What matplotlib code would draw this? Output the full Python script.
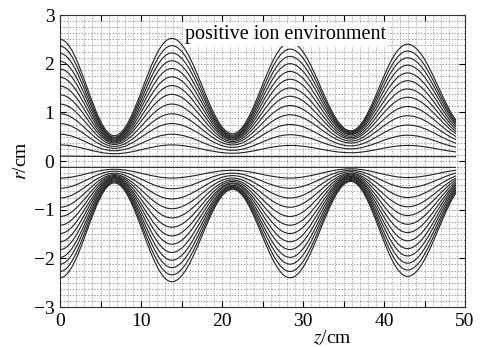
import numpy as np
import matplotlib
matplotlib.use("Agg")
import matplotlib.pyplot as plt
from matplotlib.path import Path
from matplotlib.patches import PathPatch, Rectangle

plt.rcParams['font.family'] = ['Liberation Serif', 'DejaVu Serif']
plt.rcParams['mathtext.fontset'] = 'stix'

# z positions of the extrema of the trajectories (cm); last one lies beyond the data end
z_ext = [0.0, 6.7, 13.8, 21.3, 28.4, 35.9, 42.9, 50.5]
z_end = 48.9

# upper family: r (cm) at each extremum station, outermost -> innermost
upper = [
    [2.50, 2.36, 2.21, 2.05, 1.89, 1.72, 1.54, 1.36, 1.17, 0.97, 0.77, 0.55, 0.33, 0.10],
    [0.52, 0.49, 0.47, 0.45, 0.43, 0.41, 0.39, 0.37, 0.34, 0.30, 0.26, 0.21, 0.15, 0.09],
    [2.52, 2.37, 2.22, 2.06, 1.90, 1.73, 1.55, 1.37, 1.17, 0.97, 0.77, 0.55, 0.33, 0.09],
    [0.56, 0.53, 0.51, 0.49, 0.47, 0.45, 0.43, 0.40, 0.37, 0.33, 0.28, 0.22, 0.16, 0.09],
    [2.44, 2.30, 2.15, 2.00, 1.84, 1.68, 1.50, 1.33, 1.14, 0.95, 0.75, 0.54, 0.32, 0.09],
    [0.62, 0.60, 0.58, 0.56, 0.54, 0.51, 0.48, 0.45, 0.41, 0.37, 0.31, 0.25, 0.17, 0.09],
    [2.40, 2.26, 2.12, 1.97, 1.81, 1.65, 1.48, 1.31, 1.12, 0.93, 0.74, 0.53, 0.32, 0.09],
    [0.65, 0.63, 0.61, 0.59, 0.56, 0.53, 0.50, 0.47, 0.43, 0.38, 0.32, 0.25, 0.17, 0.09],
]

# lower family
lower = [
    [-2.40, -2.27, -2.12, -1.98, -1.82, -1.66, -1.49, -1.32, -1.14, -0.95, -0.76, -0.56, -0.35, -0.13],
    [-0.45, -0.43, -0.41, -0.39, -0.37, -0.35, -0.34, -0.32, -0.30, -0.28, -0.25, -0.21, -0.17, -0.13],
    [-2.48, -2.34, -2.19, -2.04, -1.88, -1.71, -1.54, -1.36, -1.17, -0.98, -0.78, -0.57, -0.35, -0.13],
    [-0.58, -0.56, -0.54, -0.52, -0.50, -0.47, -0.45, -0.42, -0.39, -0.35, -0.30, -0.25, -0.19, -0.13],
    [-2.40, -2.27, -2.12, -1.98, -1.82, -1.66, -1.49, -1.32, -1.14, -0.95, -0.76, -0.56, -0.35, -0.13],
    [-0.42, -0.40, -0.38, -0.36, -0.34, -0.32, -0.31, -0.29, -0.27, -0.25, -0.22, -0.19, -0.16, -0.13],
    [-2.37, -2.24, -2.10, -1.95, -1.80, -1.64, -1.47, -1.30, -1.12, -0.94, -0.75, -0.55, -0.34, -0.13],
    [-0.45, -0.43, -0.41, -0.39, -0.37, -0.35, -0.34, -0.32, -0.30, -0.28, -0.25, -0.21, -0.17, -0.13],
]

x_major = [0, 5, 10, 15, 20, 25, 30, 35, 40, 45, 50]
x_labels = ['0', '', '10', '', '20', '', '30', '', '40', '', '50']
y_major = [-3, -2, -1, 0, 1, 2, 3]
y_labels = ['\u22123', '\u22122', '\u22121', '0', '1', '2', '3']

fig = plt.figure(figsize=(4.88, 3.47), dpi=100)
ax = fig.add_axes([60/488, 1-307/347, 405/488, 292/347])
ax.set_xlim(0, 50)
ax.set_ylim(-3, 3)

clip = Rectangle((0, -3), z_end, 6, transform=ax.transData)
HANDLE = 0.364


def add_curve(vals):
    verts = [(z_ext[0], vals[0])]
    codes = [Path.MOVETO]
    for i in range(len(z_ext) - 1):
        h = z_ext[i+1] - z_ext[i]
        verts += [(z_ext[i] + HANDLE*h, vals[i]),
                  (z_ext[i+1] - HANDLE*h, vals[i+1]),
                  (z_ext[i+1], vals[i+1])]
        codes += [Path.CURVE4]*3
    p = PathPatch(Path(verts, codes), fc='none', ec='#222222', lw=0.8, zorder=3)
    ax.add_patch(p)
    p.set_clip_path(clip)


for fam in (upper, lower):
    ncurve = len(fam[0])
    for k in range(ncurve):
        add_curve([row[k] for row in fam])

ax.set_xticks(x_major)
ax.set_xticklabels(x_labels)
ax.set_yticks(y_major)
ax.set_yticklabels(y_labels)
ax.set_xticks(np.arange(0, 50.01, 1), minor=True)
ax.set_yticks(np.arange(-3, 3.001, 0.125), minor=True)
ax.tick_params(which='major', direction='in', length=4, width=0.8, top=True, right=True,
               labelsize=14, pad=4)
ax.tick_params(which='minor', length=0)
ax.xaxis.grid(True, which='both', ls=(0, (1, 2)), color='#6a6a6a', lw=0.55, zorder=1)
ax.yaxis.grid(True, which='both', ls=(0, (2, 2)), color='#8a8a8a', lw=0.55, zorder=1)
for s in ax.spines.values():
    s.set_linewidth(0.8)
    s.set_color('#333333')

ax.text(27.8, 2.6, 'positive ion environment', ha='center', va='center', fontsize=14.5,
        bbox=dict(fc='white', ec='none', pad=1.5), zorder=4)

fig.text(22/488, 1-161/347, r'$r$/cm', rotation=90, ha='center', va='center', fontsize=14)
fig.text(332/488, 0.0, r'$z$/cm', ha='center', va='bottom', fontsize=14)

fig.savefig('out.png', dpi=100)
